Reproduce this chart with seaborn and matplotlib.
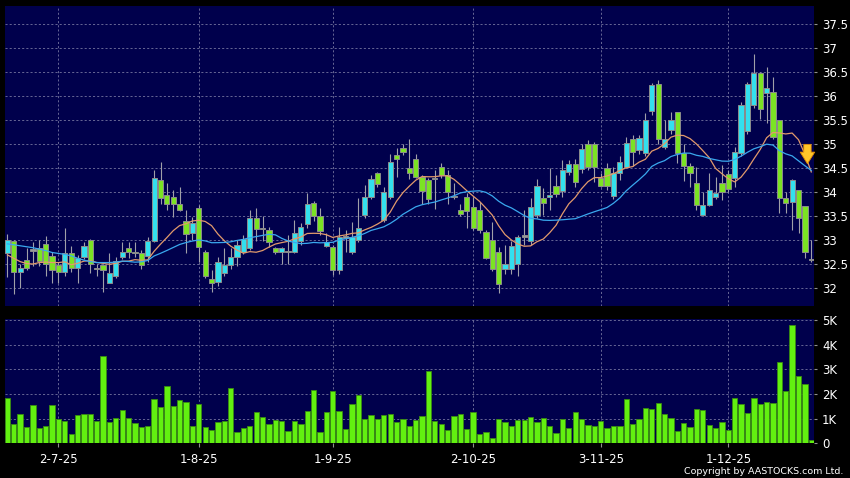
import numpy as np
import pandas as pd
import matplotlib
matplotlib.use("Agg")
import matplotlib.pyplot as plt
import seaborn as sns

# daily candles, one per trading day (19-6-25 .. 18-12-25)
opens = [32.72, 32.97, 32.33, 32.58, 32.78, 32.84, 32.91, 32.67, 32.48, 32.33,
         32.72, 32.41, 32.65, 33.01, 32.40, 32.47, 32.11, 32.26, 32.65, 32.83,
         32.76, 32.72, 32.67, 32.98, 34.26, 33.94, 33.90, 33.75, 33.40, 33.15,
         33.66, 32.76, 32.18, 32.12, 32.31, 32.47, 32.64, 32.76, 32.83, 33.45,
         33.22, 33.21, 32.84, 32.74, 32.75, 32.74, 32.97, 33.33, 33.78, 33.49,
         32.88, 32.85, 32.38, 33.05, 32.74, 32.99, 33.52, 33.90, 34.39, 33.42,
         33.89, 34.78, 34.91, 34.51, 34.68, 34.32, 34.26, 34.27, 34.53, 34.35,
         33.89, 33.62, 33.89, 33.69, 33.62, 33.17, 32.99, 32.76, 32.40, 32.40,
         32.51, 33.07, 32.97, 33.52, 33.88, 33.89, 34.13, 34.02, 34.41, 34.59,
         34.48, 35.01, 35.01, 34.30, 34.51, 33.92, 34.40, 34.53, 35.10, 34.87,
         34.81, 35.69, 36.26, 34.93, 35.29, 35.67, 34.81, 34.54, 34.19, 33.52,
         33.73, 33.89, 34.19, 34.38, 34.29, 34.81, 35.28, 35.81, 36.47, 36.06,
         36.08, 35.49, 33.87, 33.80, 34.04, 33.70, 32.58]
highs = [33.12, 33.00, 32.51, 32.84, 32.95, 33.00, 33.09, 32.75, 32.55, 33.24,
         32.88, 32.69, 32.96, 33.02, 32.51, 32.50, 32.72, 32.65, 32.96, 32.96,
         32.96, 32.80, 33.07, 34.46, 34.62, 34.18, 34.04, 34.11, 33.63, 33.47,
         33.73, 32.80, 32.37, 32.65, 32.83, 32.83, 33.00, 33.10, 33.63, 33.66,
         33.49, 33.28, 32.86, 32.86, 33.10, 33.42, 33.35, 33.97, 33.82, 33.66,
         33.14, 32.90, 33.28, 33.20, 33.38, 33.87, 34.15, 34.35, 34.42, 34.11,
         34.80, 34.91, 35.01, 35.10, 34.80, 34.35, 34.30, 34.46, 34.60, 34.46,
         34.18, 33.76, 33.97, 33.90, 33.80, 33.20, 33.38, 32.86, 32.90, 32.97,
         33.10, 33.63, 33.87, 34.28, 34.08, 34.51, 34.35, 34.67, 34.67, 34.69,
         35.01, 35.08, 35.05, 34.39, 34.60, 34.53, 34.74, 35.15, 35.19, 35.19,
         35.64, 36.28, 36.33, 35.50, 35.67, 35.67, 35.01, 34.60, 34.53, 34.00,
         34.39, 34.32, 34.56, 34.46, 34.94, 35.88, 36.30, 36.88, 36.50, 36.61,
         36.40, 35.50, 34.00, 34.28, 34.05, 33.70, 33.00]
lows = [32.22, 31.87, 32.01, 32.38, 32.45, 32.45, 32.26, 32.10, 32.10, 32.25,
        32.34, 32.11, 32.60, 32.32, 32.24, 31.92, 32.10, 32.20, 32.60, 32.62,
        32.65, 32.39, 32.55, 32.95, 33.76, 33.63, 33.47, 33.60, 32.72, 33.00,
        32.55, 32.20, 31.92, 32.05, 32.25, 32.40, 32.45, 32.70, 32.80, 32.97,
        32.97, 32.86, 32.70, 32.51, 32.50, 32.72, 32.90, 33.25, 33.40, 33.10,
        32.85, 32.27, 32.30, 32.75, 32.70, 32.95, 33.45, 33.85, 34.10, 33.38,
        33.85, 34.32, 34.78, 34.28, 34.30, 33.76, 33.75, 33.64, 34.30, 33.76,
        33.85, 33.50, 33.24, 33.20, 33.15, 32.60, 32.35, 31.89, 32.30, 32.30,
        32.24, 32.90, 32.90, 33.45, 33.52, 33.63, 33.90, 33.90, 34.35, 34.10,
        34.40, 34.45, 34.20, 34.10, 34.05, 33.85, 34.25, 34.50, 34.54, 34.80,
        34.75, 35.60, 35.00, 34.90, 35.20, 34.60, 34.22, 34.10, 33.63, 33.49,
        33.70, 33.85, 33.83, 34.00, 34.11, 34.75, 35.20, 35.75, 35.53, 35.43,
        35.10, 33.56, 33.56, 33.20, 33.14, 32.63, 32.55]
closes = [33.01, 32.33, 32.41, 32.41, 32.78, 32.57, 32.51, 32.38, 32.33, 32.72,
          32.41, 32.62, 32.87, 32.51, 32.40, 32.38, 32.32, 32.57, 32.76, 32.76,
          32.72, 32.48, 32.97, 34.30, 33.87, 33.76, 33.76, 33.63, 33.13, 33.35,
          32.86, 32.24, 32.10, 32.54, 32.48, 32.64, 32.90, 33.02, 33.45, 33.22,
          33.22, 32.95, 32.74, 32.84, 32.75, 33.15, 33.28, 33.76, 33.49, 33.19,
          32.95, 32.38, 33.06, 33.05, 33.07, 33.26, 33.90, 34.28, 34.17, 34.00,
          34.63, 34.68, 34.83, 34.39, 34.31, 34.03, 33.85, 34.30, 34.35, 34.00,
          33.90, 33.54, 33.61, 33.26, 33.21, 32.63, 32.39, 32.08, 32.51, 32.87,
          33.07, 33.07, 33.68, 34.13, 33.78, 33.94, 33.95, 34.46, 34.59, 34.20,
          34.89, 34.53, 34.53, 34.13, 34.13, 34.39, 34.62, 35.03, 34.84, 35.12,
          35.50, 36.22, 35.10, 35.10, 35.50, 34.81, 34.54, 34.39, 33.73, 33.73,
          34.04, 33.97, 33.99, 34.06, 34.84, 35.81, 36.24, 36.47, 35.72, 36.16,
          35.14, 33.87, 33.78, 34.25, 33.45, 32.76, 32.58]
# volume in thousands of shares
vol_k = [1.84, 0.78, 1.19, 0.68, 1.54, 0.62, 0.72, 1.55, 1.00, 0.90,
         0.39, 1.14, 1.20, 1.18, 0.90, 3.55, 0.85, 1.04, 1.36, 1.01,
         0.81, 0.68, 0.70, 1.80, 1.49, 2.31, 1.51, 1.77, 1.68, 0.70,
         1.58, 0.65, 0.53, 0.86, 0.92, 2.24, 0.47, 0.64, 0.69, 1.27,
         1.08, 0.80, 0.93, 0.92, 0.51, 0.92, 0.77, 1.31, 2.16, 0.46,
         1.27, 2.11, 1.31, 0.57, 1.59, 1.96, 0.99, 1.15, 0.99, 1.14,
         1.20, 0.85, 1.00, 0.70, 0.95, 1.12, 2.95, 0.92, 0.77, 0.54,
         1.11, 1.18, 0.58, 1.26, 0.36, 0.47, 0.20, 1.00, 0.86, 0.72,
         0.96, 0.96, 1.08, 0.88, 1.03, 0.72, 0.43, 1.00, 0.61, 1.28,
         1.00, 0.74, 0.70, 0.91, 0.62, 0.70, 0.72, 1.78, 0.77, 0.99,
         1.42, 1.38, 1.64, 1.19, 1.03, 0.50, 0.84, 0.66, 1.39, 1.35,
         0.73, 0.62, 0.86, 0.55, 1.82, 1.58, 1.24, 1.85, 1.61, 1.66,
         1.65, 3.30, 2.12, 4.80, 2.74, 2.41, 0.12]

# moving averages before a full window is available
ma10_head = [32.69, 32.62, 32.55, 32.51, 32.50, 32.53, 32.54, 32.53, 32.53]
ma20_head = [32.92, 32.90, 32.88, 32.86, 32.84, 32.81, 32.78, 32.74, 32.72, 32.70,
             32.67, 32.62, 32.58, 32.55, 32.53, 32.53, 32.53, 32.54, 32.56]

date_ticks = [8, 30, 51, 73, 93, 113]
date_labels = ["2-7-25", "1-8-25", "1-9-25", "2-10-25", "3-11-25", "1-12-25"]
price_ticks = [32, 32.5, 33, 33.5, 34, 34.5, 35, 35.5, 36, 36.5, 37, 37.5]
price_labels = ["32", "32.5", "33", "33.5", "34", "34.5", "35", "35.5", "36", "36.5", "37", "37.5"]
vol_ticks = [0, 1, 2, 3, 4, 5]
vol_labels = ["0", "1K", "2K", "3K", "4K", "5K"]

df = pd.DataFrame({"idx": np.arange(len(closes)), "open": opens, "high": highs,
                   "low": lows, "close": closes, "vol": vol_k})
df["ma10"] = df["close"].rolling(10).mean()
df.loc[:len(ma10_head) - 1, "ma10"] = ma10_head
df["ma20"] = df["close"].rolling(20).mean()
df.loc[:len(ma20_head) - 1, "ma20"] = ma20_head

UP = "#33e0ee"
DOWN = "#7be323"
FLAT = "#9a9a9a"
NAVY = "#00004c"
GRID = "#7676a0"

fig = plt.figure(figsize=(8.5, 4.78), dpi=100, facecolor="black")
ax = fig.add_axes([0.0053, 0.3588, 0.9529, 0.6287], facecolor=NAVY)
axv = fig.add_axes([0.0053, 0.0726, 0.9529, 0.2600], facecolor=NAVY)

# candles
body_lo = df[["open", "close"]].min(axis=1)
body_h = (df["close"] - df["open"]).abs().clip(lower=0.025)
colors = np.where(df["close"] > df["open"], UP, np.where(df["close"] < df["open"], DOWN, FLAT))
ax.vlines(df["idx"], df["low"], df["high"], color="#a0a0a8", lw=0.8, zorder=2)
ax.bar(df["idx"], body_h, bottom=body_lo, width=0.82, color=colors,
       edgecolor="#8c8c8c", linewidth=0.7, zorder=3)

# moving averages
sns.lineplot(data=df, x="idx", y="ma10", ax=ax, color="#e29a6c", lw=0.9, zorder=4)
sns.lineplot(data=df, x="idx", y="ma20", ax=ax, color="#3aa8ee", lw=0.9, zorder=4)

# down arrow at the latest bar
ax.annotate("", xy=(df["idx"].iloc[-1] - 0.6, 34.53), xytext=(df["idx"].iloc[-1] - 0.6, 35.05),
            arrowprops=dict(arrowstyle="simple,head_length=0.6,head_width=0.75,tail_width=0.38",
                            fc="#ffc62a", ec="#e08a00", lw=0.6, mutation_scale=14), zorder=5)

# volume
sns.barplot(data=df, x="idx", y="vol", ax=axv, native_scale=True, width=0.83,
            color="#62f010", saturation=1, edgecolor="#3a8c12", linewidth=0.6, errorbar=None)

xlim = (-0.45, 126.5)
for a in (ax, axv):
    a.set_xlim(*xlim)
    a.set_xlabel("")
    a.set_ylabel("")
    for s in a.spines.values():
        s.set_visible(False)
    a.set_xticks(date_ticks)
    a.grid(True, color=GRID, linestyle=(0, (2.5, 2.5)), lw=0.6)
    a.set_axisbelow(True)
    a.yaxis.tick_right()
    a.tick_params(axis="y", length=2.5, width=0.8, color="#909090", labelcolor="white",
                  labelsize=8.5, pad=3)

ax.set_ylim(31.615, 37.875)
ax.set_yticks(price_ticks)
ax.set_yticklabels(price_labels)
ax.tick_params(axis="x", length=0, labelbottom=False)

axv.set_ylim(0, 5.04)
axv.set_yticks(vol_ticks)
axv.set_yticklabels(vol_labels)
axv.set_xticklabels(date_labels)
axv.tick_params(axis="x", length=3, width=0.8, color="#909090", labelcolor="white",
                labelsize=8.5, pad=4)

fig.text(0.992, 0.0146, "Copyright by AASTOCKS.com Ltd.", color="white", fontsize=6.8,
         ha="right", va="center")

fig.savefig("out.png", dpi=100, facecolor="black")
